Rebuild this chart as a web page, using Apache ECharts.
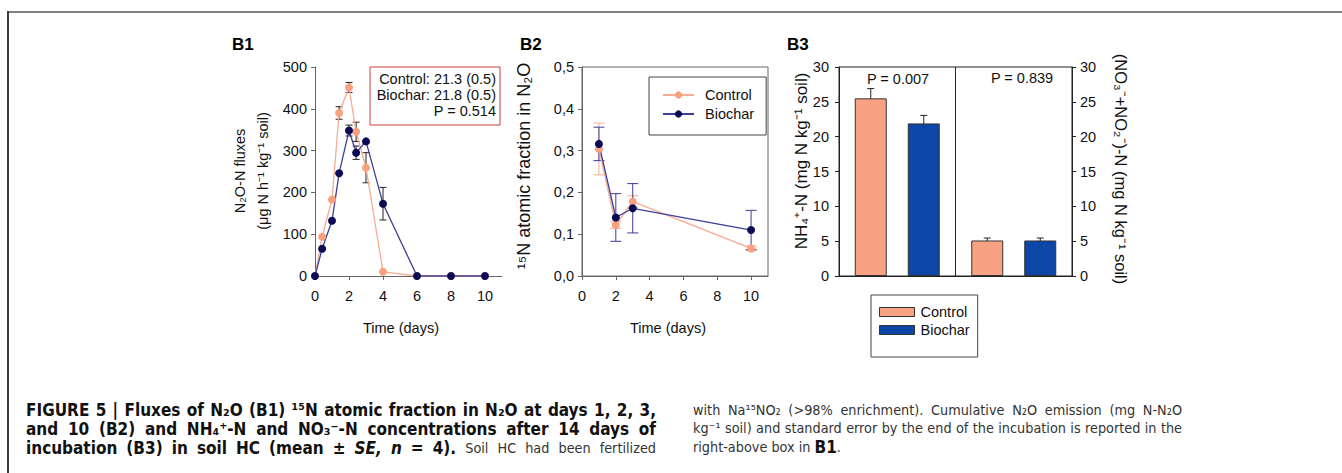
<!DOCTYPE html>
<html>
<head>
<meta charset="utf-8">
<title>Figure 5</title>
<script src="https://cdn.jsdelivr.net/npm/echarts@6/dist/echarts.min.js"></script>
<style>
html, body { margin: 0; padding: 0; background: #fff; }
#main { width: 1342px; height: 473px; }
</style>
</head>
<body>
<div id="main"></div>
<script>
// B1 - N2O-N fluxes (days, mean, standard error)
var b1Days = [0, 0.42, 1, 1.42, 2, 2.42, 3, 4, 6, 8, 10];
var b1Control = [0, 94, 183, 390, 451, 345, 259, 10, 0, 0, 0];
var b1ControlSe = [0, 0, 0, 15, 12, 23, 36, 0, 0, 0, 0];
var b1Biochar = [0, 65, 132, 246, 348, 295, 322, 173, 0, 0, 0];
var b1BiocharSe = [0, 0, 0, 0, 13, 16, 0, 39, 0, 0, 0];
var b1XTicks = [0, 2, 4, 6, 8, 10];
var b1Note = ['Control: 21.3 (0.5)', 'Biochar: 21.8 (0.5)', 'P = 0.514'];

// B2 - 15N atomic fraction in N2O
var b2Days = [1, 2, 3, 10];
var b2Control = [0.304, 0.122, 0.178, 0.066];
var b2ControlSe = [0.062, 0.008, 0.014, 0.006];
var b2Biochar = [0.316, 0.140, 0.162, 0.110];
var b2BiocharSe = [0.040, 0.057, 0.059, 0.047];
var b2XTicks = [0, 2, 4, 6, 8, 10];
var b2YLabels = ['0,0', '0,1', '0,2', '0,3', '0,4', '0,5'];

// B3 - mineral N after 14 days
var b3Groups = ['NH4+-N', 'NO3-+NO2--N'];
var b3Control = [25.5, 5.1];
var b3ControlSe = [1.4, 0.35];
var b3Biochar = [21.9, 5.1];
var b3BiocharSe = [1.15, 0.35];
var b3PValues = ['P = 0.007', 'P = 0.839'];

// caption, as [style, text] runs per line
var captionLeft = [
    [['b', 'FIGURE 5 | Fluxes of N₂O (B1) ¹⁵N atomic fraction in N₂O at days 1, 2, 3,']],
    [['b', 'and 10 (B2) and NH₄⁺-N and NO₃⁻-N concentrations after 14 days of']],
    [['b', 'incubation (B3) in soil HC (mean ± '], ['bi', 'SE, n'], ['b', ' = 4).'], ['r', ' Soil HC had been fertilized']]
];
var captionRight = [
    [['r', 'with Na¹⁵NO₂ (>98% enrichment). Cumulative N₂O emission (mg N-N₂O']],
    [['r', 'kg⁻¹ soil) and standard error by the end of the incubation is reported in the']],
    [['r', 'right-above box in '], ['b', 'B1'], ['r', '.']]
];

var FONT = '"Liberation Sans", Arial, sans-serif';
var CAP_FONT = '"Liberation Sans Narrow", "Arial Narrow", "DejaVu Sans Condensed", sans-serif';
var salmonDot = '#f8a07f', salmonLine = '#f7ab90';
var navyDot = '#0b0b54', navyLine = '#3d3d9a';
var barSalmon = '#f9a283', barBlue = '#0c46a6';
var BAR_W = 32, BAR_GAP = 21;

var capStyles = {
    b: {weight: 'bold', italic: 'normal', size: 17, color: '#111'},
    bi: {weight: 'bold', italic: 'italic', size: 17, color: '#111'},
    r: {weight: 'normal', italic: 'normal', size: 14.3, color: '#333'}
};

function pairs(xs, ys) {
    return xs.map(function (x, i) { return [x, ys[i]]; });
}
function errData(xs, ys, se) {
    var out = [];
    for (var i = 0; i < xs.length; i++) {
        if (se[i] > 0) out.push([xs[i], ys[i] - se[i], ys[i] + se[i]]);
    }
    return out;
}
function errorBars(capHalf, color, shift) {
    return function (params, api) {
        var lo = api.coord([api.value(0), api.value(1)]);
        var hi = api.coord([api.value(0), api.value(2)]);
        var x = lo[0] + shift;
        var st = {stroke: color, lineWidth: 1};
        return {type: 'group', children: [
            {type: 'line', shape: {x1: x, y1: lo[1], x2: x, y2: hi[1]}, style: st},
            {type: 'line', shape: {x1: x - capHalf, y1: lo[1], x2: x + capHalf, y2: lo[1]}, style: st},
            {type: 'line', shape: {x1: x - capHalf, y1: hi[1], x2: x + capHalf, y2: hi[1]}, style: st}
        ]};
    };
}
function txt(x, y, text, opt) {
    opt = opt || {};
    return {
        type: 'text', x: x, y: y, rotation: opt.rot || 0, silent: true,
        style: {
            text: text,
            fontFamily: opt.family || FONT,
            fontSize: opt.size || 14.5,
            fontWeight: opt.weight || 'normal',
            fontStyle: opt.italic || 'normal',
            fill: opt.color || '#111',
            align: opt.align || 'center', textAlign: opt.align || 'center',
            verticalAlign: 'middle', textVerticalAlign: 'middle'
        }
    };
}

// justified caption lines, measured with the same fonts the page renders
var measureCtx = document.createElement('canvas').getContext('2d');
function runWidth(s, t) {
    var st = capStyles[s];
    measureCtx.font = st.italic + ' ' + st.weight + ' ' + st.size + 'px ' + CAP_FONT;
    return measureCtx.measureText(t).width;
}
function captionLine(segs, x0, x1, y, justify) {
    var words = [[]];
    segs.forEach(function (seg) {
        seg[1].split(' ').forEach(function (p, i) {
            if (i > 0) words.push([]);
            if (p) words[words.length - 1].push([seg[0], p]);
        });
    });
    words = words.filter(function (w) { return w.length; });
    var widths = words.map(function (w) {
        return w.reduce(function (s, r) { return s + runWidth(r[0], r[1]); }, 0);
    });
    var total = widths.reduce(function (a, b) { return a + b; }, 0);
    var gap = justify ? (x1 - x0 - total) / (words.length - 1) : runWidth('r', ' ');
    var out = [], x = x0;
    words.forEach(function (w) {
        w.forEach(function (r) {
            var st = capStyles[r[0]];
            out.push(txt(x, y, r[1], {align: 'left', family: CAP_FONT, size: st.size, weight: st.weight, italic: st.italic, color: st.color}));
            x += runWidth(r[0], r[1]);
        });
        x += gap;
    });
    return out;
}
function lineSeries(xi, xs, ys, dot, line) {
    return {
        type: 'line', xAxisIndex: xi, yAxisIndex: xi, data: pairs(xs, ys),
        symbol: 'circle', symbolSize: 8, showSymbol: true, showAllSymbol: true,
        itemStyle: {color: dot}, lineStyle: {color: line, width: 1.3},
        name: dot === salmonDot ? 'Control' : 'Biochar'
    };
}
function errSeries(xi, yi, data, cap, color, shift) {
    return {
        type: 'custom', xAxisIndex: xi, yAxisIndex: yi, data: data, silent: true,
        encode: {x: 0, y: [1, 2]}, renderItem: errorBars(cap, color, shift || 0)
    };
}
function valueAxis(grid, min, max, opt) {
    opt = opt || {};
    var label = {color: '#111', fontSize: 14.5, fontFamily: FONT, margin: opt.margin || 8, formatter: opt.formatter};
    var tick = {show: true, length: 4, lineStyle: {color: opt.color || '#666'}};
    if (opt.ticks) { label.customValues = opt.ticks; tick.customValues = opt.ticks; }
    return {
        type: 'value', gridIndex: grid, min: min, max: max, interval: opt.interval,
        position: opt.position,
        axisLine: {show: true, onZero: false, lineStyle: {color: opt.color || '#666', width: 1}},
        axisTick: tick, axisLabel: label, splitLine: {show: false}
    };
}

var myChart = echarts.init(document.getElementById('main'), null, {renderer: 'svg'});

var graphics = [
    // outer frame
    {type: 'line', silent: true, shape: {x1: 8, y1: 12, x2: 1342, y2: 12}, style: {stroke: '#808080', lineWidth: 2}},
    {type: 'line', silent: true, shape: {x1: 8, y1: 11, x2: 8, y2: 473}, style: {stroke: '#3a3a3a', lineWidth: 2}},

    // panel titles
    txt(232, 44, 'B1', {size: 17, weight: 'bold', align: 'left', color: '#000'}),
    txt(520, 44, 'B2', {size: 17, weight: 'bold', align: 'left', color: '#000'}),
    txt(787, 44, 'B3', {size: 17, weight: 'bold', align: 'left', color: '#000'}),

    // axis names
    txt(240, 171, 'N₂O-N fluxes', {rot: Math.PI / 2}),
    txt(263, 171, '(μg N h⁻¹ kg⁻¹ soil)', {rot: Math.PI / 2}),
    txt(401, 328, 'Time (days)'),
    txt(524, 166, '¹⁵N atomic fraction in N₂O', {rot: Math.PI / 2, size: 18}),
    txt(668, 328, 'Time (days)'),
    txt(801, 161, 'NH₄⁺-N (mg N kg⁻¹ soil)', {rot: Math.PI / 2, size: 17}),
    txt(1121, 169, '(NO₃⁻+NO₂⁻)-N (mg N kg⁻¹ soil)', {rot: -Math.PI / 2, size: 16.5}),

    // B1 cumulative emission box
    {type: 'rect', silent: true, shape: {x: 370, y: 67, width: 130, height: 58}, style: {fill: 'none', stroke: '#d23c3c', lineWidth: 1}},
    txt(496, 79, b1Note[0], {align: 'right'}),
    txt(496, 95, b1Note[1], {align: 'right'}),
    txt(496, 111, b1Note[2], {align: 'right'}),

    // B3 p values
    txt(898, 79, b3PValues[0]),
    txt(1022, 78, b3PValues[1])
];
var capY = [410, 429, 448];
captionLeft.forEach(function (line, i) {
    graphics = graphics.concat(captionLine(line, 26, 656, capY[i], true));
});
captionRight.forEach(function (line, i) {
    graphics = graphics.concat(captionLine(line, 693, 1182, capY[i] - (i ? 1 : 0), i < 2));
});

var option = {
    animation: false,
    grid: [
        {left: 315, top: 67, width: 187, height: 209},
        {left: 582, top: 67, width: 186, height: 209, show: true, borderColor: '#666', borderWidth: 1},
        {left: 839, top: 67, width: 233, height: 209, show: true, borderColor: '#222', borderWidth: 1}
    ],
    xAxis: [
        valueAxis(0, 0, 11, {ticks: b1XTicks, margin: 12}),
        valueAxis(1, 0, 11, {ticks: b2XTicks, margin: 12}),
        {
            type: 'category', gridIndex: 2, data: b3Groups,
            axisLine: {show: true, lineStyle: {color: '#222'}},
            axisTick: {show: false}, axisLabel: {show: false},
            splitLine: {show: true, lineStyle: {color: '#222', width: 1}}
        }
    ],
    yAxis: [
        valueAxis(0, 0, 500, {interval: 100}),
        valueAxis(1, 0, 0.5, {interval: 0.1, formatter: function (v) { return b2YLabels[Math.round(v * 10)]; }}),
        valueAxis(2, 0, 30, {interval: 5, color: '#222', margin: 10, position: 'left'}),
        valueAxis(2, 0, 30, {interval: 5, color: '#222', margin: 8, position: 'right'})
    ],
    legend: [
        {
            data: ['Control', 'Biochar'], left: 649, top: 77, orient: 'vertical',
            padding: [10, 12, 13, 13], itemGap: 3, itemWidth: 31, itemHeight: 9,
            borderColor: '#444', borderWidth: 1, borderRadius: 0, selectedMode: false,
            textStyle: {fontSize: 14.5, fontFamily: FONT, color: '#111', lineHeight: 16, padding: [0, 0, 0, 6]}
        },
        {
            data: [
                {name: 'Control', icon: 'rect', itemStyle: {color: barSalmon, borderColor: '#333', borderWidth: 1}},
                {name: 'Biochar', icon: 'rect', itemStyle: {color: barBlue, borderColor: '#333', borderWidth: 1}}
            ],
            left: 871, top: 295, orient: 'vertical',
            padding: [9, 8, 19, 8], itemGap: 2, itemWidth: 35, itemHeight: 9,
            borderColor: '#444', borderWidth: 1, borderRadius: 0, selectedMode: false,
            textStyle: {fontSize: 14.5, fontFamily: FONT, color: '#111', lineHeight: 16, padding: [0, 0, 0, 1]}
        }
    ],
    series: [
        lineSeries(0, b1Days, b1Control, salmonDot, salmonLine),
        errSeries(0, 0, errData(b1Days, b1Control, b1ControlSe), 3.5, '#222'),
        lineSeries(0, b1Days, b1Biochar, navyDot, navyLine),
        errSeries(0, 0, errData(b1Days, b1Biochar, b1BiocharSe), 3.5, '#222'),

        lineSeries(1, b2Days, b2Control, salmonDot, salmonLine),
        errSeries(1, 1, errData(b2Days, b2Control, b2ControlSe), 5.5, salmonLine),
        lineSeries(1, b2Days, b2Biochar, navyDot, navyLine),
        errSeries(1, 1, errData(b2Days, b2Biochar, b2BiocharSe), 5.5, navyLine),

        {
            name: 'Control', type: 'bar', xAxisIndex: 2, yAxisIndex: 2, data: b3Control,
            barWidth: BAR_W, barGap: (BAR_GAP / BAR_W * 100) + '%',
            itemStyle: {color: barSalmon, borderColor: '#333', borderWidth: 1}
        },
        {
            name: 'Biochar', type: 'bar', xAxisIndex: 2, yAxisIndex: 2, data: b3Biochar,
            barWidth: BAR_W, barGap: (BAR_GAP / BAR_W * 100) + '%',
            itemStyle: {color: barBlue, borderColor: '#333', borderWidth: 1}
        },
        errSeries(2, 2, errData([0, 1], b3Control, b3ControlSe), 3.5, '#222', -(BAR_W + BAR_GAP) / 2),
        errSeries(2, 2, errData([0, 1], b3Biochar, b3BiocharSe), 3.5, '#222', (BAR_W + BAR_GAP) / 2)
    ],
    graphic: graphics
};

myChart.setOption(option);
</script>
</body>
</html>
